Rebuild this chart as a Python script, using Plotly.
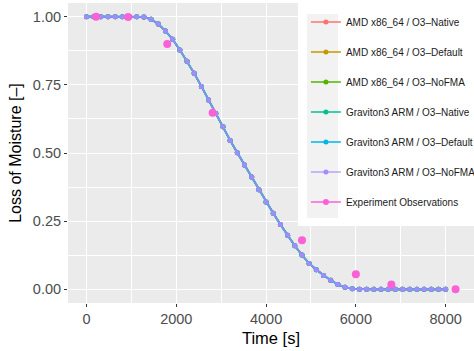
import plotly.graph_objects as go

# ---- data ----
time_s = [0, 160, 320, 480, 640, 800, 960, 1120, 1280, 1440, 1600, 1760, 1920,
          2080, 2240, 2400, 2560, 2720, 2880, 3040, 3200, 3360, 3520, 3680,
          3840, 4000, 4160, 4320, 4480, 4640, 4800, 4960, 5120, 5280, 5440,
          5600, 5760, 5920, 6080, 6240, 6400, 6560, 6720, 6880, 7040, 7200,
          7360, 7520, 7680, 7840, 8000]
loss_model = [1.0, 1.0, 1.0, 1.0, 1.0, 1.0, 1.0, 1.0, 0.999, 0.990, 0.973,
              0.947, 0.917, 0.878, 0.836, 0.792, 0.744, 0.694, 0.645, 0.596,
              0.546, 0.501, 0.456, 0.412, 0.365, 0.320, 0.279, 0.238, 0.198,
              0.160, 0.126, 0.095, 0.072, 0.051, 0.033, 0.018, 0.008, 0.002,
              0.0005, 0.0, 0.0, 0.0, 0.0, 0.0, 0.0, 0.0, 0.0, 0.0, 0.0, 0.0, 0.0]

series_names = ["AMD x86_64 / O3\u2013Native", "AMD x86_64 / O3\u2013Default",
                "AMD x86_64 / O3\u2013NoFMA", "Graviton3 ARM / O3\u2013Native",
                "Graviton3 ARM / O3\u2013Default", "Graviton3 ARM / O3\u2013NoFMA"]
series_colors = ["#F8766D", "#C49A00", "#53B400", "#00C094", "#00B6EB", "#A58AFF"]
line_colors = ["#F8766D", "#C49A00", "#53B400", "#00C094", "#00B6EB",
               "rgba(165,138,255,0.75)"]
series_values = [loss_model] * 6

exp_name = "Experiment Observations"
exp_color = "#FB61D7"
exp_time = [216, 930, 1800, 2810, 4800, 6000, 6790, 8220]
exp_loss = [1.0, 0.999, 0.90, 0.648, 0.18, 0.055, 0.018, 0.0]

x_ticks = [0, 2000, 4000, 6000, 8000]
y_ticks = [0.0, 0.25, 0.5, 0.75, 1.0]
y_tick_labels = ["0.00", "0.25", "0.50", "0.75", "1.00"]

FONT = "Liberation Sans, Arial, sans-serif"

fig = go.Figure()
for i, (name, vals) in enumerate(zip(series_names, series_values)):
    fig.add_trace(go.Scatter(
        x=time_s, y=vals, mode="lines+markers", name=name,
        line=dict(color=line_colors[i], width=1.7),
        marker=dict(color=series_colors[i], size=5),
        legendgroup=f"g{i}",
    ))
# observation points (no connecting line)
fig.add_trace(go.Scatter(
    x=exp_time, y=exp_loss, mode="markers", name=exp_name,
    marker=dict(color=exp_color, size=8),
    legendgroup="exp", showlegend=False,
))
# legend key for observations (line + point, as in the reference key)
fig.add_trace(go.Scatter(
    x=[None], y=[None], mode="lines+markers", name=exp_name,
    line=dict(color=exp_color, width=1.7), marker=dict(color=exp_color, size=6),
    legendgroup="exp", hoverinfo="skip",
))

fig.update_layout(
    width=474, height=351,
    margin=dict(l=68, r=0, t=3, b=48, autoexpand=False),
    paper_bgcolor="white", plot_bgcolor="#EBEBEB",
    font=dict(family=FONT, size=12, color="#4D4D4D"),
    showlegend=True,
    legend=dict(
        x=0.586, y=0.985, xanchor="left", yanchor="top",
        bgcolor="rgba(0,0,0,0)", font=dict(size=10, color="#1A1A1A", family=FONT),
        tracegroupgap=11, itemwidth=30,
    ),
    xaxis=dict(
        range=[-411, 8631], tickvals=x_ticks, ticktext=[str(v) for v in x_ticks],
        showgrid=True, gridcolor="white", gridwidth=1.1,
        minor=dict(dtick=1000, tick0=1000, showgrid=True, gridcolor="white", gridwidth=0.5),
        ticks="outside", ticklen=3, tickcolor="#333333", tickwidth=1,
        zeroline=False, showline=False, automargin=False,
        tickfont=dict(size=14.5, color="#4D4D4D"),
        title=dict(text="Time [s]", font=dict(size=16.5, color="black"), standoff=6),
    ),
    yaxis=dict(
        range=[-0.05, 1.05], tickvals=y_ticks, ticktext=y_tick_labels,
        showgrid=True, gridcolor="white", gridwidth=1.1,
        minor=dict(dtick=0.25, tick0=0.125, showgrid=True, gridcolor="white", gridwidth=0.5),
        ticks="outside", ticklen=3, tickcolor="#333333", tickwidth=1,
        zeroline=False, showline=False, automargin=False,
        tickfont=dict(size=14.5, color="#4D4D4D"),
        title=dict(text="Loss of Moisture [\u2013]", font=dict(size=16, color="black"), standoff=7),
    ),
    shapes=[
        dict(type="rect", xref="paper", yref="paper", layer="above",
             x0=(298 - 68) / 406, x1=1.0, y0=(300 - 223) / 300, y1=1.01,
             fillcolor="white", line=dict(width=0)),
        dict(type="rect", xref="paper", yref="paper", layer="above",
             x0=(307 - 68) / 406, x1=(338 - 68) / 406, y0=(300 - 215) / 300,
             y1=(300 - 11) / 300, fillcolor="#F2F2F2", line=dict(width=0)),
    ],
)

fig.write_html("out.html", config={"displayModeBar": False},
               post_script="document.body.style.margin='0';")
